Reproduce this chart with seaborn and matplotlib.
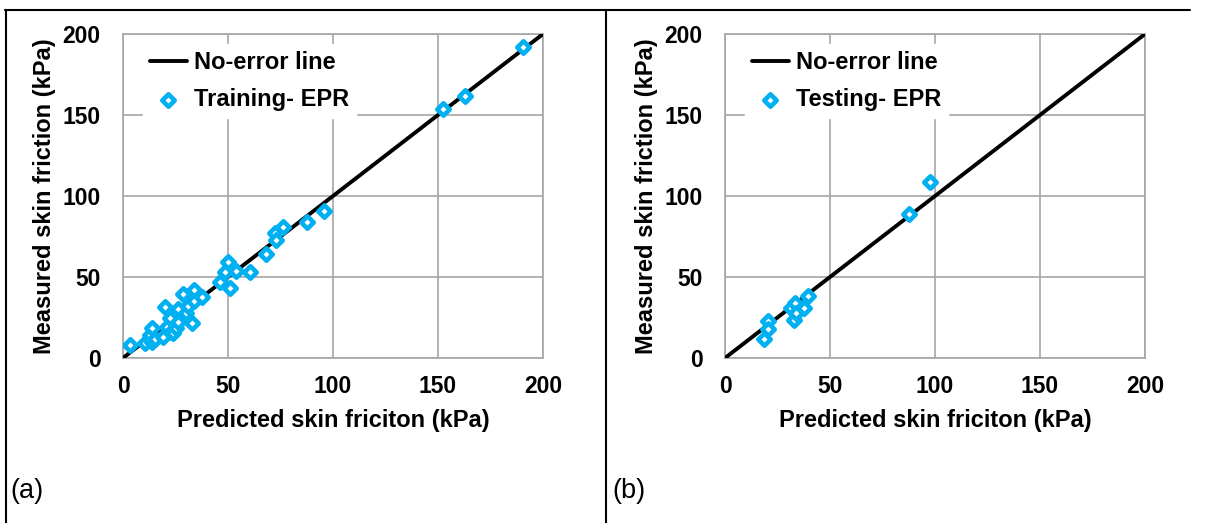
import matplotlib
matplotlib.use("Agg")
import matplotlib.pyplot as plt
from matplotlib.lines import Line2D
import seaborn as sns
import pandas as pd

sns.set_theme(style="white")
plt.rcParams['font.family'] = ['Liberation Sans', 'DejaVu Sans']
plt.rcParams['text.color'] = 'black'
plt.rcParams['axes.labelcolor'] = 'black'
plt.rcParams['xtick.color'] = 'black'
plt.rcParams['ytick.color'] = 'black'

# ---- data ----
train_pred = [3.3, 10.5, 13, 14, 14, 15, 19, 20, 21, 22.5, 23, 24, 25, 26, 26, 28.6, 30, 31, 33, 34, 34,
              37.6, 46, 48.6, 50, 51, 54, 60.5, 68.3, 72.4, 73, 76, 87.6, 95.7, 152.4, 163, 190.5]
train_meas = [8, 9, 14, 10, 18.5, 12, 13, 31.5, 19, 25, 16, 15.5, 18.5, 30, 22, 39.5, 28, 32, 21.6, 42, 35,
              37.6, 47, 53, 59, 43, 54, 53, 64.5, 77, 73, 81, 84, 91, 153.7, 162, 192]
test_pred = [18.5, 20.4, 20.5, 31.3, 33, 33.3, 33.7, 37.5, 39.5, 87.4, 97.4]
test_meas = [11.7, 23, 18, 30.8, 23.5, 34, 28, 31, 38, 89, 108.6]
line_xy = [0, 200]
ticks = [0, 50, 100, 150, 200]
xlabel = "Predicted skin friciton (kPa)"
ylabel = "Measured skin friction (kPa)"
panels = [("(a)", "Training- EPR", train_pred, train_meas),
          ("(b)", "Testing- EPR", test_pred, test_meas)]

CYAN = "#00B0F0"
GRID = "#A6A6A6"

fig = plt.figure(figsize=(12.07, 5.23), dpi=100)
lefts = [123 / 1207, 725 / 1207]
W, H = 1207, 523

for (tag, lab, xs, ys), left in zip(panels, lefts):
    ax = fig.add_axes([left, (523 - 358) / H, 420 / W, 324 / H])
    sns.lineplot(x=line_xy, y=line_xy, ax=ax, color="black", linewidth=2.8,
                 label="No-error line", zorder=3)
    df = pd.DataFrame({"p": xs, "m": ys})
    sns.scatterplot(data=df, x="p", y="m", ax=ax, marker="D", s=40,
                    facecolor="white", edgecolor=CYAN, linewidth=3.3,
                    label=lab, zorder=4)
    ax.set_xlim(0, 200)
    ax.set_ylim(0, 200)
    ax.set_xticks(ticks)
    ax.set_yticks(ticks)
    ax.grid(True, color=GRID, linewidth=1.2)
    ax.set_axisbelow(True)
    for s in ax.spines.values():
        s.set_color(GRID)
        s.set_linewidth(1.2)
    ax.tick_params(axis="both", length=0, labelsize=16.5, colors="black")
    ax.tick_params(axis="y", pad=16)
    ax.tick_params(axis="x", pad=12)
    for t in ax.get_xticklabels() + ax.get_yticklabels():
        t.set_fontweight("bold")
    ax.set_xlabel(xlabel, fontsize=17, fontweight="bold")
    ax.set_ylabel(ylabel, fontsize=17, fontweight="bold")
    ax.yaxis.set_label_coords(-0.186, 0.5)
    ax.yaxis.label.set_verticalalignment("center")
    ax.xaxis.set_label_coords(0.5, -0.194)
    ax.xaxis.label.set_verticalalignment("center")
    leg = ax.legend(loc="upper left", bbox_to_anchor=(0.047, 0.968), frameon=True,
                    fancybox=False, edgecolor="white", facecolor="white", framealpha=1,
                    prop={"weight": "bold", "size": 17}, handlelength=1.57,
                    handletextpad=0.3, labelspacing=0.57, borderpad=0.3,
                    borderaxespad=0)
    leg.set_zorder(5)
    fig.text(left - 113 / W, 1 - 491 / H, tag, fontsize=19.5, va="center", ha="left")

# panel borders
for seg in [((5, 1190), (10, 10)), ((6, 6), (10, 523)), ((606, 606), (10, 523))]:
    xsg = [v / W for v in seg[0]]
    ysg = [1 - v / H for v in seg[1]]
    fig.add_artist(Line2D(xsg, ysg, color="black", linewidth=1.5))

fig.savefig("out.png", dpi=100)
